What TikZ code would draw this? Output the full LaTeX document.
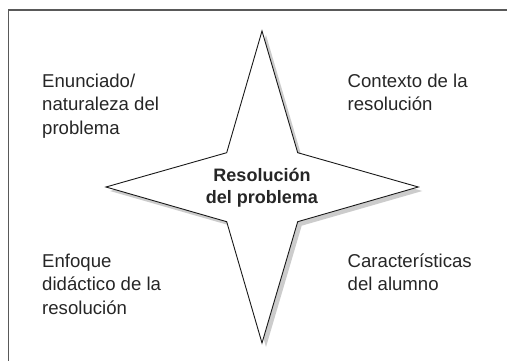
\documentclass[tikz,border=0pt]{standalone}
\usepackage{fontspec}
\setmainfont{Liberation Sans}
\begin{document}
\begin{tikzpicture}[x=1pt,y=-1pt,
  lbl/.style={anchor=base west,align=left,inner sep=0pt,text=black!85,
    font=\fontsize{18.6}{23.4}\selectfont},
  ctr/.style={align=center,inner sep=0pt,text=black!85,
    font=\bfseries\fontsize{18}{22.5}\selectfont},
  frame/.style={draw=black!65,line width=1.5pt},
  starline/.style={draw=black!90,line width=0.9pt,fill=white,line join=miter},
  starshadow/.style={fill=black!20}]
\useasboundingbox (0,0) rectangle (507,361);
\begin{scope}
\clip (0,0) rectangle (507,361);
\draw[frame] (8.5,370) -- (8.5,9.8) -- (515,9.8);
\end{scope}
% star shadow
\fill[starshadow,shift={(4,4)}] (262,31) -- (297.7,152.7) -- (418.3,187) -- (297.7,221.7) -- (262,343) -- (226.7,221.7) -- (106,187) -- (226.7,152.7) -- cycle;
% star
\path[starline] (262,31) coordinate (st) -- (297.7,152.7) coordinate (sur) -- (418.3,187) coordinate (sr) -- (297.7,221.7) coordinate (slr) -- (262,343) coordinate (sb) -- (226.7,221.7) coordinate (sll) -- (106,187) coordinate (sl) -- (226.7,152.7) coordinate (sul) -- cycle;
\node[ctr] (c) at (262,188) {Resolución\\del problema};
\node[lbl] (ul) at (42,134.1) {Enunciado/\\naturaleza del\\problema};
\node[lbl] (ur) at (347.5,110.7) {Contexto de la\\resolución};
\node[lbl] (ll) at (42,314.1) {Enfoque\\didáctico de la\\resolución};
\node[lbl] (lr) at (347.5,290.7) {Características\\del alumno};
\end{tikzpicture}
\end{document}
